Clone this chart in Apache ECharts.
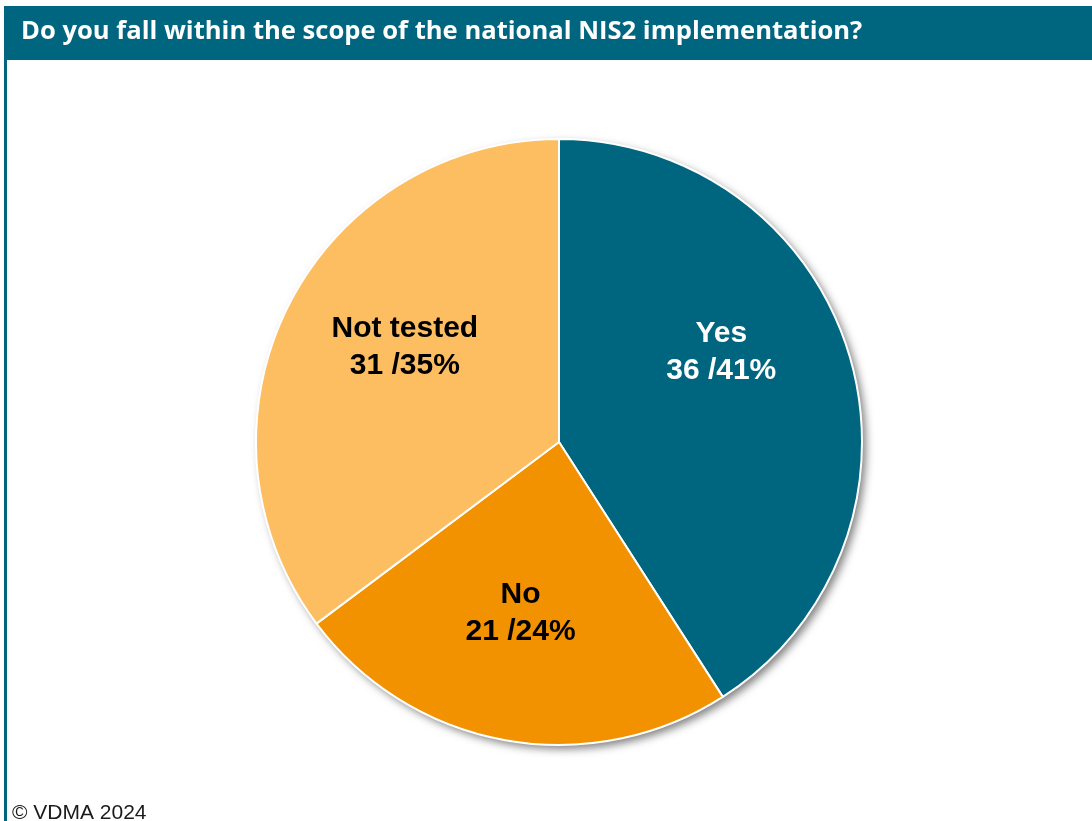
<!DOCTYPE html>
<html>
<head>
<meta charset="utf-8">
<script src="https://cdn.jsdelivr.net/npm/echarts@6/dist/echarts.min.js"></script>
<style>
  html, body { margin: 0; padding: 0; background: #ffffff; }
  #chart { width: 1092px; height: 821px; }
</style>
</head>
<body>
<div id="chart"></div>
<script>
// Survey answers and their counts
const categories = ['Yes', 'No', 'Not tested'];
const counts = [36, 21, 31];
const shares = [41, 24, 35];   // percentage shown next to each count
const sliceColors = ['#00667f', '#f39200', '#fdbe62'];
const labelColors = ['#ffffff', '#000000', '#000000'];

const titleText = 'Do you fall within the scope of the national NIS2 implementation?';
const footerText = '\u00a9 VDMA 2024';

// nudges of each inside label away from the slice midpoint
const labelNudge = [[14, -46], [-11, 19], [-16, -26]];

const chart = echarts.init(document.getElementById('chart'), null, { renderer: 'canvas' });

const pieData = categories.map((name, i) => ({
  name: name,
  value: counts[i],
  share: shares[i],
  itemStyle: { color: sliceColors[i] },
  label: { color: labelColors[i] }
}));

const center = [559, 442];
const radius = 303;

chart.setOption({
  animation: false,
  title: {
    text: titleText,
    left: 16,
    top: 14,
    textStyle: {
      color: '#ffffff',
      fontFamily: 'Open Sans',
      fontWeight: 'bold',
      fontSize: 25.6
    }
  },
  graphic: [
    { type: 'rect', z: -1, shape: { x: 4, y: 6, width: 1088, height: 54 }, style: { fill: '#00667f' } },
    { type: 'rect', z: -1, shape: { x: 4, y: 60, width: 3, height: 761 }, style: { fill: '#00667f' } },
    {
      type: 'text', left: 12, top: 803,
      style: { text: footerText, fill: '#1a1a1a', font: '21px "Liberation Sans", Arial, sans-serif' }
    }
  ],
  series: [
    {
      // soft drop shadow under the whole disc
      type: 'pie',
      silent: true,
      center: center,
      radius: radius,
      z: 1,
      label: { show: false },
      labelLine: { show: false },
      data: [{ value: 1, name: '' }],
      itemStyle: {
        color: '#ffffff',
        shadowColor: 'rgba(0,0,0,0.5)',
        shadowBlur: 9,
        shadowOffsetX: 4,
        shadowOffsetY: 4
      }
    },
    {
      type: 'pie',
      center: center,
      radius: radius,
      startAngle: 90,
      clockwise: true,
      z: 2,
      data: pieData,
      itemStyle: { borderColor: '#ffffff', borderWidth: 2 },
      label: {
        show: true,
        position: 'inside',
        fontFamily: '"Liberation Sans", Arial, sans-serif',
        fontWeight: 'bold',
        fontSize: 30,
        lineHeight: 37,
        align: 'center',
        formatter: p => p.name + '\n' + p.value + ' /' + p.data.share + '%'
      },
      labelLayout: p => ({ dx: labelNudge[p.dataIndex][0], dy: labelNudge[p.dataIndex][1] }),
      emphasis: { disabled: true }
    }
  ]
});
</script>
</body>
</html>
